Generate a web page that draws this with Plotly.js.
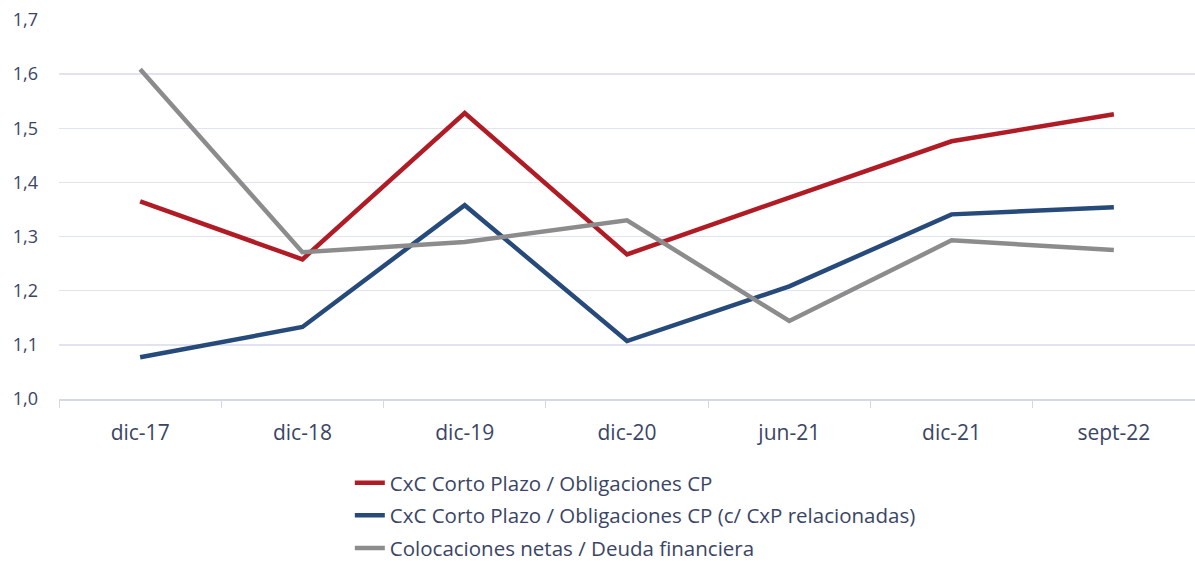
<!DOCTYPE html>
<html>
<head>
<meta charset="utf-8">
<script src="https://cdn.plot.ly/plotly-3.0.1.min.js"></script>
<style>html,body{margin:0;padding:0;background:#fff;}#chart{width:1195px;height:561px;}</style>
</head>
<body>
<div id="chart"></div>
<script>
const categories = ["dic-17","dic-18","dic-19","dic-20","jun-21","dic-21","sept-22"];
const seriesNames = [
  "CxC Corto Plazo / Obligaciones CP",
  "CxC Corto Plazo / Obligaciones CP (c/ CxP relacionadas)",
  "Colocaciones netas / Deuda financiera"
];
const cxcCP = [1.365, 1.258, 1.528, 1.267, 1.372, 1.476, 1.526];
const cxcCPRel = [1.077, 1.133, 1.358, 1.107, 1.208, 1.341, 1.354];
const colocaciones = [1.609, 1.271, 1.290, 1.330, 1.144, 1.293, 1.275];
const yTicks = [1.0, 1.1, 1.2, 1.3, 1.4, 1.5, 1.6, 1.7];

const colors = ["#b01c26", "#264a7a", "#8c8c8c"];
const values = [cxcCP, cxcCPRel, colocaciones];
const textColor = "#3a4566";

const traces = values.map((v, i) => ({
  x: categories, y: v, type: "scatter", mode: "lines",
  name: seriesNames[i], legendgroup: "g" + i,
  line: {color: colors[i], width: 4.5}
}));

const layout = {
  width: 1195, height: 561,
  margin: {l: 59, r: 0, t: 20, b: 162},
  paper_bgcolor: "#fff", plot_bgcolor: "#fff",
  separators: ",.",
  font: {family: "'Open Sans', 'Noto Sans', sans-serif", size: 18, color: textColor},
  showlegend: true,
  legend: {
    xref: "paper", x: 0.256, xanchor: "left",
    yref: "container", y: 0.175, yanchor: "top",
    orientation: "v", traceorder: "grouped", tracegroupgap: 3,
    font: {size: 20.5, color: textColor}, bgcolor: "rgba(0,0,0,0)"
  },
  xaxis: {
    type: "category", range: [-0.5, 6.5], tickson: "boundaries", ticks: "outside", ticklen: 7,
    tickcolor: "#d5d9e6", showline: true, linecolor: "#d5d9e6", linewidth: 1.5,
    showgrid: false, tickfont: {size: 21, color: textColor}, fixedrange: true,
    ticklabelstandoff: 14, automargin: false
  },
  yaxis: {
    range: [1.0, 1.7], tickvals: yTicks, tickformat: ".1f",
    showgrid: true, gridcolor: "#e1e4f0", gridwidth: 1.5,
    zeroline: false, showline: false, ticks: "", ticklabelstandoff: 20,
    tickfont: {size: 18, color: textColor}, automargin: false
  }
};

Plotly.newPlot("chart", traces, layout, {displayModeBar: false, staticPlot: true});
</script>
</body>
</html>
